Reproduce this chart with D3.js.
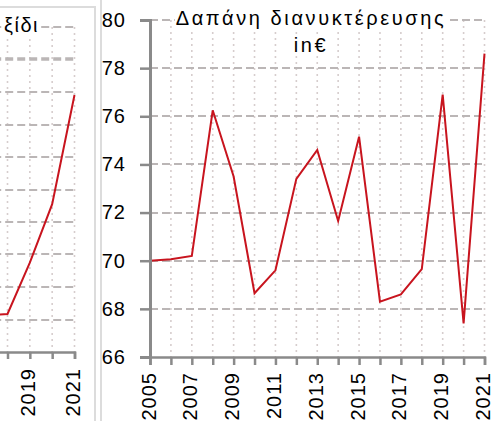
<!DOCTYPE html>
<html>
<head>
<meta charset="utf-8">
<script src="https://cdn.jsdelivr.net/npm/d3@7"></script>
<style>
  html, body { margin: 0; padding: 0; background: #fff; overflow: hidden; }
  svg { display: block; font-family: "Liberation Sans", Arial, sans-serif; }
</style>
</head>
<body>
<svg id="chart" width="501" height="421"></svg>
<script>
// Overnight spending per year (€)
const years = [2005, 2006, 2007, 2008, 2009, 2010, 2011, 2012, 2013, 2014, 2015, 2016, 2017, 2018, 2019, 2020, 2021];
const spending = [70.0, 70.06, 70.2, 76.25, 73.5, 68.65, 69.6, 73.4, 74.6, 71.65, 75.15, 68.3, 68.6, 69.65, 76.9, 67.4, 78.6];
const yTicks = [66, 68, 70, 72, 74, 76, 78, 80];
const xLabelYears = [2005, 2007, 2009, 2011, 2013, 2015, 2017, 2019, 2021];
const mainTitle = ["Δαπάνη διανυκτέρευσης", "in€"];

// Neighbouring panel: spending per trip, recent years
const tripYears = [2017, 2018, 2019, 2020, 2021];
const tripSpending = [261.3, 261.7, 277.5, 295.5, 329.1];
const tripTicks = [250, 260, 270, 280, 290, 300, 310, 320, 330, 340, 350];
const tripLabelYears = [2019, 2021];
const tripTitle = ["ξίδι"];

const svg = d3.select("#chart");
const RED = "#c8141e";
const GRID = "#bbb6b6";
const DOT = "#d6cdcd";
const AXIS = "#8a8a8a";
const FONT = 20;

function drawPanel(opt) {
  const g = svg.append("g");
  const x = d3.scaleLinear().domain([2005, 2021]).range(opt.xRange);
  const y = d3.scaleLinear().domain(opt.yDomain).range(opt.yRange);
  const [x0, x1] = opt.xRange;
  const [yb, yt] = opt.yRange;

  // vertical dotted grid
  g.append("g").selectAll("line").data(opt.years.slice(1)).join("line")
    .attr("x1", d => x(d)).attr("x2", d => x(d))
    .attr("y1", yt).attr("y2", yb)
    .attr("stroke", DOT).attr("stroke-width", 1.6).attr("stroke-dasharray", "2,4");

  // horizontal dashed grid
  g.append("g").selectAll("line").data(opt.ticks.slice(1)).join("line")
    .attr("x1", x0).attr("x2", x1)
    .attr("y1", d => Math.round(y(d))).attr("y2", d => Math.round(y(d)))
    .attr("stroke", GRID)
    .attr("stroke-width", d => d === opt.heavyTick ? 3.5 : 2)
    .attr("stroke-dasharray", "8,4");

  // title with white backing
  const tg = g.append("g");
  opt.title.forEach((t, i) => {
    const txt = tg.append("text")
      .attr("x", opt.titleX).attr("y", opt.titleY + i * 27)
      .attr("text-anchor", opt.titleAnchor)
      .attr("font-size", FONT).attr("letter-spacing", opt.titleSpacing)
      .attr("fill", "#000").text(t);
    const b = txt.node().getBBox();
    tg.insert("rect", "text")
      .attr("x", b.x - 1).attr("y", b.y).attr("width", b.width + 2).attr("height", b.height)
      .attr("fill", "#fff");
  });

  // data line
  const line = d3.line().x((d, i) => x(opt.lineYears[i])).y(d => y(d));
  g.append("path").datum(opt.values)
    .attr("d", line).attr("fill", "none")
    .attr("stroke", RED).attr("stroke-width", 2).attr("stroke-linejoin", "miter");

  // x axis
  const xAxis = d3.axisBottom(x).tickValues(opt.years).tickSize(opt.tickLen)
    .tickFormat(d => opt.labelYears.includes(d) ? d : "");
  const xa = g.append("g").attr("transform", `translate(0,${yb})`).call(xAxis);
  xa.select(".domain").attr("stroke", AXIS).attr("stroke-width", 2.5);
  xa.selectAll(".tick line").attr("stroke", AXIS).attr("stroke-width", 2.5);
  xa.selectAll(".tick text")
    .attr("transform", "rotate(-90)")
    .attr("x", -opt.labelGap).attr("y", 0).attr("dy", "0.25em")
    .attr("text-anchor", "end")
    .attr("font-size", FONT).attr("letter-spacing", 1).attr("fill", "#000")
    .attr("font-family", "Liberation Sans, Arial, sans-serif");
  xa.selectAll(".tick").filter(d => !opt.labelYears.includes(d)).select("text").remove();

  if (opt.showY) {
    const yAxis = d3.axisLeft(y).tickValues(opt.ticks).tickSize(10).tickPadding(14);
    const ya = g.append("g").attr("transform", `translate(${x0},0)`).call(yAxis);
    ya.select(".domain").attr("stroke", AXIS).attr("stroke-width", 3);
    ya.selectAll(".tick line").attr("stroke", AXIS).attr("stroke-width", 2.5);
    ya.selectAll(".tick text")
      .attr("font-size", FONT).attr("letter-spacing", 1).attr("fill", "#000")
      .attr("font-family", "Liberation Sans, Arial, sans-serif");
  }
}

// panel frames
svg.append("line").attr("x1", 0).attr("x2", 96).attr("y1", 7).attr("y2", 7)
  .attr("stroke", "#dcdcdc").attr("stroke-width", 2);
svg.append("line").attr("x1", 95).attr("x2", 95).attr("y1", 6).attr("y2", 421)
  .attr("stroke", "#dcdcdc").attr("stroke-width", 2);
svg.append("line").attr("x1", 101).attr("x2", 101).attr("y1", 0).attr("y2", 421)
  .attr("stroke", "#dcdcdc").attr("stroke-width", 2);

drawPanel({
  xRange: [-282.8, 74.5], yDomain: [250, 350], yRange: [352, 27],
  years: years, ticks: tripTicks, heavyTick: 340, labelYears: tripLabelYears,
  lineYears: tripYears, values: tripSpending,
  title: tripTitle, titleX: 39, titleY: 32, titleAnchor: "end", titleSpacing: 1.5,
  tickLen: 7, labelGap: 16, showY: false
});

drawPanel({
  xRange: [150, 484.5], yDomain: [66, 80], yRange: [357, 20],
  years: years, ticks: yTicks, heavyTick: null, labelYears: xLabelYears,
  lineYears: years, values: spending,
  title: mainTitle, titleX: 311, titleY: 25, titleAnchor: "middle", titleSpacing: 2.6,
  tickLen: 8, labelGap: 15, showY: true
});
</script>
</body>
</html>
